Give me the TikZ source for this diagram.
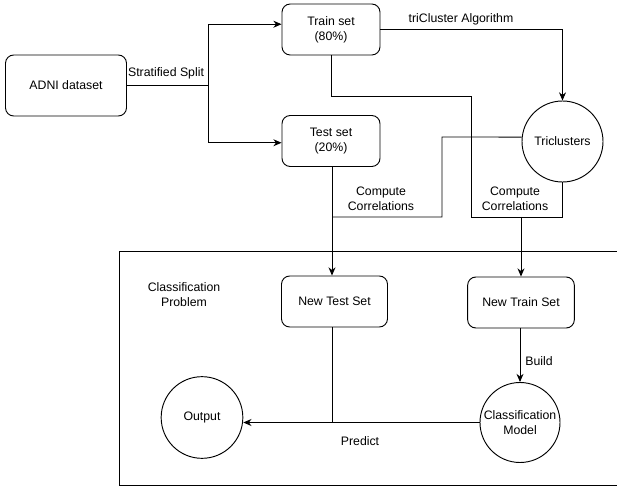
\documentclass[tikz,border=0pt]{standalone}
\usepackage{fontspec}
\setmainfont{Liberation Sans}
\usetikzlibrary{arrows.meta}
\tikzset{
  every node/.style={font=\fontsize{10.5}{12.8}\selectfont},
  box/.style={draw, line width=0.8pt, rounded corners=7pt, align=center, inner sep=0pt},
  roundnode/.style={draw, line width=0.8pt, circle, align=center, inner sep=0pt},
  link/.style={line width=0.8pt},
  arrowlink/.style={line width=0.8pt, -{Stealth[length=7pt,width=6pt]}},
  lbl/.style={align=center, inner sep=0pt}
}

\begin{document}
\begin{tikzpicture}[x=0.03cm, y=-0.03cm]
	%%%%% START %%%%%
	\clip (0,0) rectangle (617,487);
	\draw[link] (119,251) rectangle (640,485);
	\node[lbl] (probLbl) at (184,294.5) {Classification\\Problem};
	
	\node[box, minimum width=3.63cm, minimum height=1.83cm] (adni) at (66,85.5) {ADNI dataset};
	\node[box, minimum width=2.94cm, minimum height=1.53cm] (train) at (331,29.5) {Train set\\(80\%)};
	\node[box, minimum width=2.94cm, minimum height=1.53cm] (test) at (331,141) {Test set\\(20\%)};
	\node[roundnode, minimum size=2.43cm] (tri) at (562.5,141.5) {Triclusters};
	
	\node[box, minimum width=3.18cm, minimum height=1.53cm] (ntest) at (334.5,301.5) {New Test Set};
	\node[box, minimum width=3.2cm, minimum height=1.53cm] (ntrain) at (521,302.5) {New Train Set};
	\node[roundnode, minimum size=2.4cm] (model) at (520,422.5) {Classification\\Model};
	\node[roundnode, minimum size=2.45cm] (output) at (202,417.5) {Output};
	
	% split
	\coordinate (split) at (208,85.5);
	\draw[link] (adni.east) -- (split);
	\draw[arrowlink] (split) |- ([yshift=4.5pt]train.west);
	\draw[arrowlink] (split) |- ([yshift=-1.5pt]test.west);
	\node[lbl] (splitLbl) at (166,73) {Stratified Split};
	
	% tricluster
	\draw[arrowlink] (train.east) -| (tri.north);
	\node[lbl] (algLbl) at (461,19) {triCluster Algorithm};
	
	% correlations, train side
	\coordinate (bendA) at (471,96);
	\coordinate (corrR) at (471,217);
	\draw[link] (train.south) |- (bendA) -- (corrR) -| (tri.south);
	\draw[arrowlink] (ntrain.north |- corrR) -- (ntrain.north);
	\node[lbl] (corrRLbl) at (515,199) {Compute\\Correlations};
	
	% correlations, test side
	\coordinate (bendB) at (442,137);
	\coordinate (corrL) at (332,217);
	\draw[link] ([yshift=3.8pt]tri.west) -- (bendB) |- (corrL);
	\draw[arrowlink] (test.south -| corrL) -- (ntest.north -| corrL);
	\node[lbl] (corrLLbl) at (381,199) {Compute\\Correlations};
	
	% classification
	\draw[arrowlink] (ntrain.south -| model.north) -- (model.north);
	\node[lbl] (buildLbl) at (539,361) {Build};
	\draw[arrowlink] (model.west) -- (model.west -| output.east);
	\draw[link] (ntest.south -| corrL) -- (corrL |- model.west);
	\node[lbl] (predLbl) at (360,441) {Predict};
	%%%%% END %%%%%
\end{tikzpicture}
\end{document}
